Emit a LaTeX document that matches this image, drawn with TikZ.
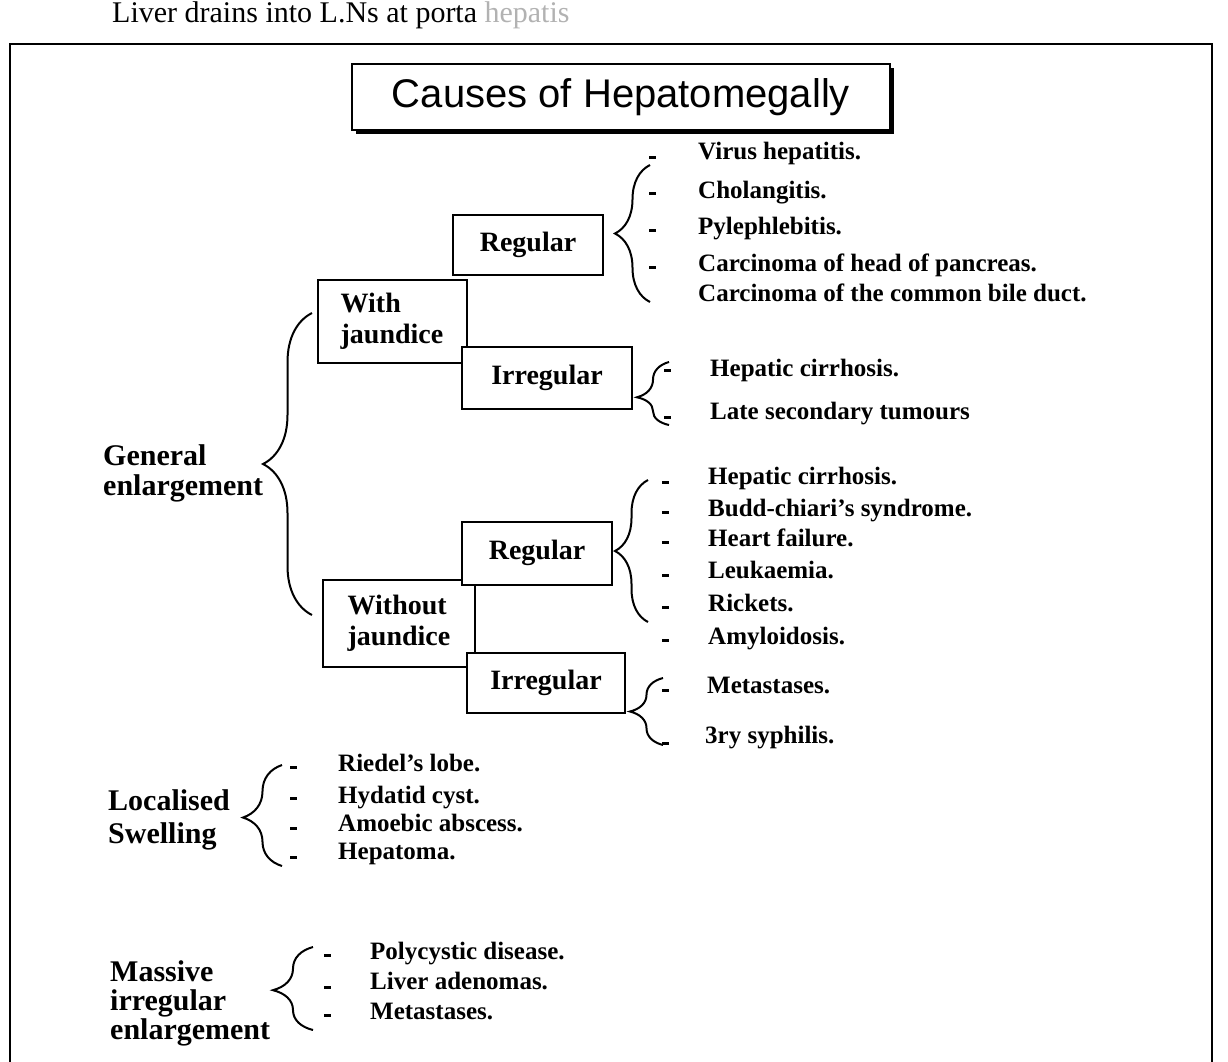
\documentclass[tikz,border=0pt]{standalone}
\usepackage{fontspec}
\setmainfont{Liberation Serif}
\newfontfamily\headfont{Liberation Sans}
\usetikzlibrary{decorations.pathreplacing,shadows}
\begin{document}
\begin{tikzpicture}[x=1pt,y=-1pt,
box/.style={draw,line width=2pt,fill=white,inner sep=0pt,align=left,font=\fontsize{28}{31}\selectfont\bfseries},
item/.style={anchor=west,inner sep=0pt,text height=17pt,text depth=5pt,font=\fontsize{25}{30}\selectfont\bfseries},
bul/.style={fill,inner sep=0pt,minimum width=7pt,minimum height=3pt},
lab/.style={anchor=west,inner sep=0pt,align=left,font=\fontsize{30}{#1}\selectfont\bfseries},
br/.style={decorate,line width=2pt,decoration={brace,amplitude=#1}}]
\useasboundingbox (0,0) rectangle (1228,1061);
\clip (0,0) rectangle (1228,1061);
\node[anchor=base west,inner sep=0pt,font=\fontsize{30}{32}\selectfont](note) at (112,22){Liver drains into L.Ns at porta \textcolor{black!30}{hepatis}};
\draw[line width=2.5pt](10,1075)--(10,44)--(1212,44)--(1212,1075);
\node[draw,line width=2pt,fill=white,minimum width=538pt,minimum height=66pt,
  drop shadow={shadow xshift=4pt,shadow yshift=-4pt,opacity=1,fill=black},
  font=\headfont\fontsize{40}{42}\selectfont](title) at (621,97){Causes of Hepatomegally};

% general enlargement
\node[lab=30](gen) at (103,473){General\\enlargement};
\draw[br=49](312,615)--(312,313);
\node[box,minimum width=149pt,minimum height=83pt](wj) at (392,321){With\\jaundice};
\node[box,minimum width=150pt,minimum height=60pt](wjr) at (528,245){Regular};
\node[box,minimum width=170pt,minimum height=62pt](wji) at (547,378){Irregular};
\node[box,minimum width=152pt,minimum height=87pt](nj) at (399,623){Without\\jaundice};
\node[box,minimum width=150pt,minimum height=63pt](njr) at (537,553){Regular};
\node[box,minimum width=158pt,minimum height=60pt](nji) at (546,683){Irregular};

% with jaundice, regular
\draw[br=35](650,302)--(650,165);
\node[bul](wjr1d) at (652,157){};\node[item](wjr1) at (698,153){Virus hepatitis.};
\node[bul](wjr2d) at (652,193){};\node[item](wjr2) at (698,192){Cholangitis.};
\node[bul](wjr3d) at (652,230){};\node[item](wjr3) at (698,228){Pylephlebitis.};
\node[bul](wjr4d) at (652,267){};\node[item](wjr4) at (698,265){Carcinoma of head of pancreas.};
\node[item](wjr5) at (698,295){Carcinoma of the common bile duct.};
% with jaundice, irregular
\draw[br=32,decoration={aspect=.44}](669,425)--(669,362);
\node[bul](wji1d) at (667,370){};\node[item](wji1) at (710,370){Hepatic cirrhosis.};
\node[bul](wji2d) at (667,417){};\node[item](wji2) at (710,413){Late secondary tumours};
% without jaundice, regular
\draw[br=33](648,622)--(648,480);
\node[bul](njr1d) at (665,482){};\node[item](njr1) at (708,478){Hepatic cirrhosis.};
\node[bul](njr2d) at (665,512){};\node[item](njr2) at (708,510){Budd-chiari's syndrome.};
\node[bul](njr3d) at (665,542){};\node[item](njr3) at (708,540){Heart failure.};
\node[bul](njr4d) at (665,575){};\node[item](njr4) at (708,572){Leukaemia.};
\node[bul](njr5d) at (665,607){};\node[item](njr5) at (708,605){Rickets.};
\node[bul](njr6d) at (665,640){};\node[item](njr6) at (708,638){Amyloidosis.};
% without jaundice, irregular
\draw[br=33](663,745)--(663,678);
\node[bul](nji1d) at (665,690){};\node[item](nji1) at (707,687){Metastases.};
\node[bul](nji2d) at (665,743){};\node[item](nji2) at (705,737){3ry syphilis.};

% localised swelling
\node[lab=33](loc) at (108,820){Localised\\Swelling};
\draw[br=39,decoration={aspect=.48}](282,866)--(282,765);
\node[bul](loc1d) at (293,767){};\node[item](loc1) at (338,765){Riedel's lobe.};
\node[bul](loc2d) at (293,798){};\node[item](loc2) at (338,797){Hydatid cyst.};
\node[bul](loc3d) at (293,828){};\node[item](loc3) at (338,825){Amoebic abscess.};
\node[bul](loc4d) at (293,857){};\node[item](loc4) at (338,853){Hepatoma.};

% massive irregular enlargement
\node[lab=29](mas) at (110,1003){Massive\\irregular\\enlargement};
\draw[br=40,decoration={aspect=.48}](313,1030)--(313,947);
\node[bul](mas1d) at (327,955){};\node[item](mas1) at (370,953){Polycystic disease.};
\node[bul](mas2d) at (327,987){};\node[item](mas2) at (370,983){Liver adenomas.};
\node[bul](mas3d) at (327,1015){};\node[item](mas3) at (370,1013){Metastases.};
\end{tikzpicture}
\end{document}
